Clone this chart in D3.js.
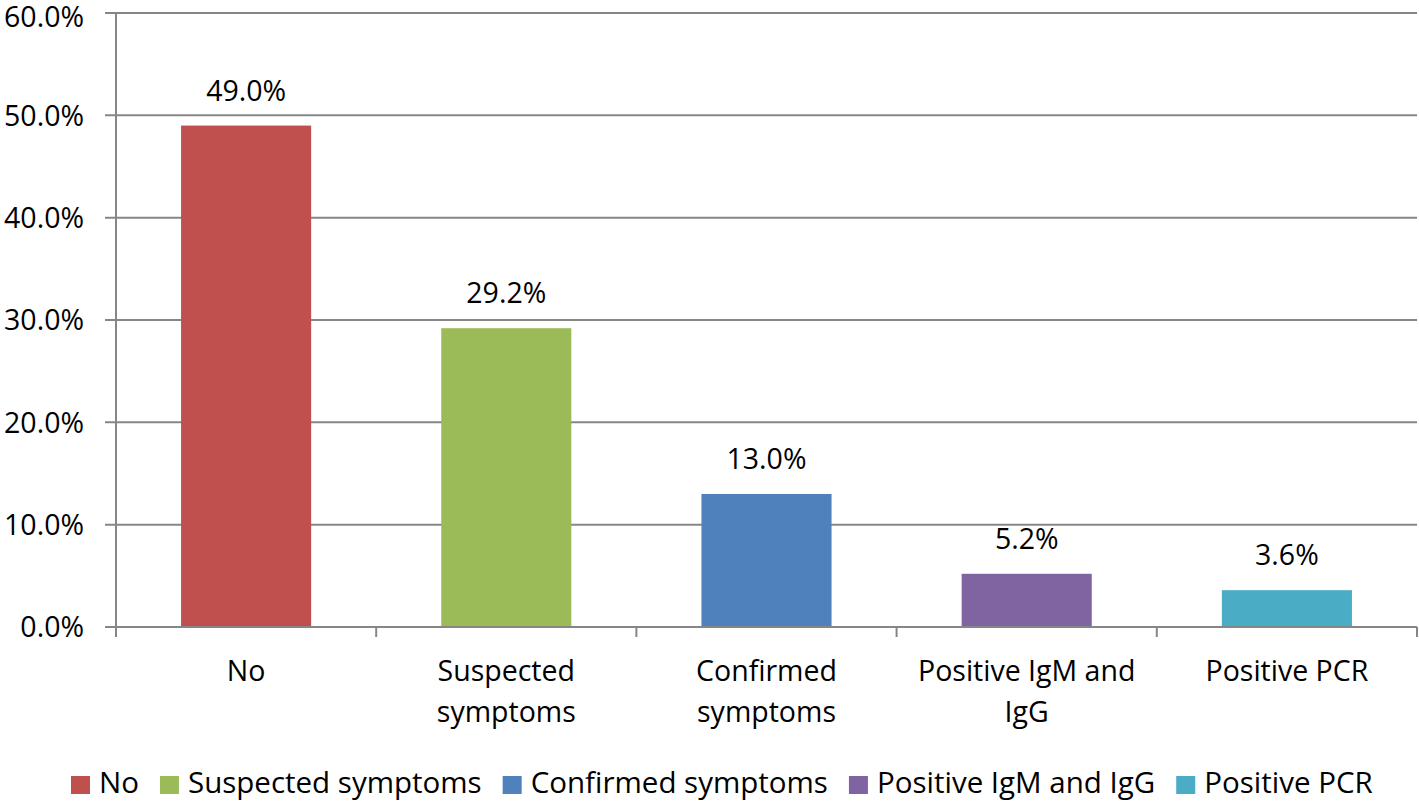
<!DOCTYPE html>
<html><head><meta charset="utf-8">
<script src="https://cdn.jsdelivr.net/npm/d3@7"></script>
<style>body{margin:0;background:#fff}svg{display:block}text{font-family:"Open Sans",sans-serif;fill:#000}</style>
</head><body>
<svg id="c" width="1419" height="801"></svg>
<script>
const categories = ["No","Suspected symptoms","Confirmed symptoms","Positive IgM and IgG","Positive PCR"];
const labelLines = [["No"],["Suspected","symptoms"],["Confirmed","symptoms"],["Positive IgM and","IgG"],["Positive PCR"]];
const values = [49.0,29.2,13.0,5.2,3.6];
const colors = ["#C0504D","#9BBB59","#4F81BD","#8064A2","#4BACC6"];
const yTicks = [0,10,20,30,40,50,60];

const svg = d3.select("#c");
const fs = 28.5;
const x = d3.scaleBand().domain(categories).range([116,1417]).paddingInner(0.5).paddingOuter(0.25);
const y = d3.scaleLinear().domain([0,60]).range([627,13]);
const grid = "#868686";

svg.append("g").selectAll("line").data(yTicks).join("line")
  .attr("x1",105).attr("x2",1417).attr("y1",d=>y(d)).attr("y2",d=>y(d))
  .attr("stroke",grid).attr("stroke-width",2);
svg.append("line").attr("x1",116).attr("x2",116).attr("y1",y(60)).attr("y2",y(0)+10).attr("stroke",grid).attr("stroke-width",2);
svg.append("g").selectAll("text").data(yTicks).join("text")
  .attr("x",84).attr("y",d=>Math.max(y(d),17)).attr("dy","0.36em").attr("text-anchor","end")
  .style("font-size",fs+"px").text(d=>d.toFixed(1)+"%");
const bounds = categories.map(c=>x(c)-x.step()*x.paddingInner()/2).concat([1417]);
bounds[0]=116;
svg.append("g").selectAll("line").data(bounds).join("line")
  .attr("x1",d=>d).attr("x2",d=>d).attr("y1",y(0)).attr("y2",y(0)+10)
  .attr("stroke",grid).attr("stroke-width",2);
svg.append("g").selectAll("rect").data(values).join("rect")
  .attr("x",(d,i)=>x(categories[i])).attr("width",x.bandwidth())
  .attr("y",d=>y(d)).attr("height",d=>y(0)-y(d)-1).attr("fill",(d,i)=>colors[i]);
svg.append("g").selectAll("text").data(values).join("text")
  .attr("x",(d,i)=>x(categories[i])+x.bandwidth()/2).attr("y",d=>y(d)-25)
  .attr("text-anchor","middle").style("font-size",fs+"px").text(d=>d.toFixed(1)+"%");
const cl = svg.append("g").selectAll("text").data(labelLines).join("text")
  .attr("text-anchor","middle").style("font-size",fs+"px");
cl.selectAll("tspan").data((d,i)=>d.map(t=>({t,i}))).join("tspan")
  .attr("x",d=>x(categories[d.i])+x.bandwidth()/2)
  .attr("y",(d,j)=>681+j*41).text(d=>d.t);
const lg = svg.append("g");
const lfs = 29.5;
let lx = 71;
categories.forEach((c,i)=>{
  lg.append("rect").attr("x",lx).attr("y",776).attr("width",19).attr("height",18).attr("fill",colors[i]);
  const t = lg.append("text").attr("x",lx+28).attr("y",793).style("font-size",lfs+"px").text(c);
  lx += 28 + t.node().getComputedTextLength() + 21;
});
</script>
</body></html>
